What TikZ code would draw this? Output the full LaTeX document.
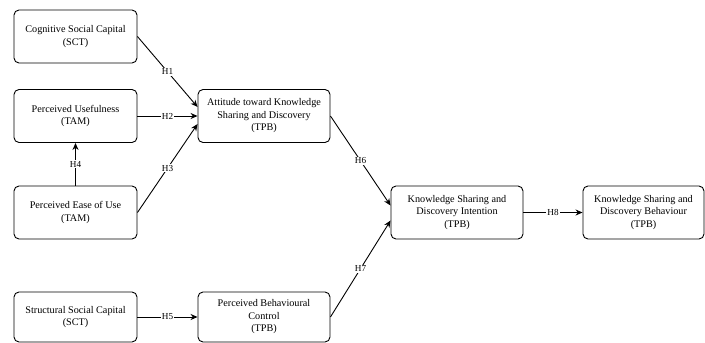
\documentclass[tikz,border=0pt]{standalone}
\usepackage{fontspec}
\setmainfont{Liberation Serif}
\usetikzlibrary{arrows.meta}
\tikzset{
  construct/.style={draw, rounded corners=5pt, line width=0.9pt, align=center,
    minimum width=123pt, minimum height=53pt, inner sep=2pt,
    font=\fontsize{10.2}{12.5}\selectfont},
  hyp/.style={-{Stealth[length=7pt,width=6pt]}, line width=0.9pt},
  hlabel/.style={fill=white, inner sep=1pt, font=\fontsize{9.2}{11}\selectfont}
}
\begin{document}
\begin{tikzpicture}[x=1pt,y=-1pt]
 \useasboundingbox (0,0) rectangle (705,343);
    \node[construct] (cog) at (75.5,36.5) {Cognitive Social Capital\\(SCT)};
    \node[construct] (use) at (75.5,116) {Perceived Usefulness\\(TAM)};
    \node[construct] (ease) at (75.5,212.5) {Perceived Ease of Use\\(TAM)};
    \node[construct, minimum height=50pt] (struct) at (75.5,317) {Structural Social Capital\\(SCT)};
    \node[construct, minimum width=132pt] (att) at (264,116) {Attitude toward Knowledge\\Sharing and Discovery\\(TPB)};
    \node[construct, minimum width=132pt, minimum height=50pt] (pbc) at (264,317) {Perceived Behavioural\\Control\\(TPB)};
    \node[construct, minimum width=132pt] (int) at (457,212.5) {Knowledge Sharing and\\Discovery Intention\\(TPB)};
    \node[construct, minimum width=121pt] (beh) at (643.5,212.5) {Knowledge Sharing and\\Discovery Behaviour\\(TPB)};
    % hypotheses
    \draw[hyp] (cog.east) -- node[hlabel] {H1} ([yshift=9pt]att.west);
    \draw[hyp] (use.east) -- node[hlabel] {H2} (att.west);
    \draw[hyp] (ease.east) -- node[hlabel] {H3} ([yshift=-8pt]att.west);
    \draw[hyp] (ease.north) -- node[hlabel] {H4} (use.south);
    \draw[hyp] (struct.east) -- node[hlabel] {H5} (pbc.west);
    \draw[hyp] (att.east) -- node[hlabel] {H6} ([yshift=7pt]int.west);
    \draw[hyp] (pbc.east) -- node[hlabel] {H7} ([yshift=-8pt]int.west);
    \draw[hyp] (int.east) -- node[hlabel] {H8} (beh.west);
\end{tikzpicture}
\end{document}
